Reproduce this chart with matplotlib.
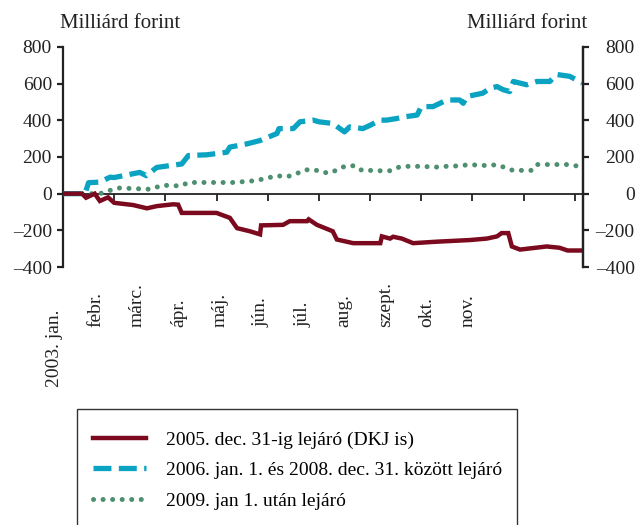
import matplotlib.pyplot as plt
import matplotlib.transforms as mtransforms
from matplotlib.patches import Rectangle

plt.rcParams['font.family'] = ['Liberation Serif', 'DejaVu Serif']

# idő hónapokban (0 = 2003. jan. 1.), értékek milliárd forintban
red_t = [0, 0.37, 0.45, 0.62, 0.72, 0.88, 1.0, 1.37, 1.64, 1.83, 2.15, 2.25, 2.32,
         3.0, 3.26, 3.4, 3.65, 3.85, 3.87, 4.3, 4.43, 4.77, 4.8, 4.96, 5.27, 5.35,
         5.67, 6.2, 6.23, 6.39, 6.45, 6.62, 6.84, 7.3, 7.95, 8.28, 8.48, 8.57, 8.7,
         8.77, 8.93, 9.45, 9.7, 9.86, 10.15]
red_v = [0, 0, -22, 0, -40, -20, -50, -62, -80, -68, -58, -60, -105,
         -105, -132, -188, -205, -222, -173, -170, -150, -150, -140, -170, -205, -250,
         -270, -270, -233, -245, -235, -245, -270, -262, -253, -245, -233, -215, -215,
         -288, -305, -288, -295, -310, -310]

blue_t = [0, 0.43, 0.5, 0.72, 0.92, 1.0, 1.5, 1.63, 1.83, 2.32, 2.45, 2.81, 3.2,
          3.26, 3.6, 3.85, 4.18, 4.22, 4.5, 4.63, 4.89, 5.0, 5.27, 5.5, 5.6, 5.86,
          6.0, 6.2, 6.32, 6.52, 6.7, 6.92, 7.0, 7.23, 7.5, 7.75, 7.82, 7.89, 8.2,
          8.35, 8.48, 8.6, 8.73, 8.8, 9.06, 9.26, 9.51, 9.65, 9.9, 10.15]
blue_v = [0, 0, 60, 63, 90, 88, 116, 98, 143, 162, 208, 212, 226,
          254, 272, 290, 328, 355, 355, 392, 401, 392, 383, 337, 364, 355,
          373, 401, 401, 410, 420, 429, 475, 475, 511, 511, 493, 530, 548,
          576, 584, 567, 557, 612, 594, 612, 612, 650, 640, 604]

green_t = [0, 0.72, 0.92, 1.08, 1.37, 1.7, 1.95, 2.3, 2.45, 2.8, 3.33, 3.72, 3.9,
           4.18, 4.37, 4.53, 4.73, 4.92, 5.08, 5.25, 5.41, 5.55, 5.7, 5.84, 5.98,
           6.19, 6.39, 6.54, 6.72, 7.07, 7.23, 7.42, 7.6, 7.95, 8.3, 8.47, 8.63,
           8.79, 9.16, 9.26, 9.84, 10.15]
green_v = [0, 0, 18, 31, 28, 24, 46, 42, 61, 61, 61, 70, 79,
           98, 92, 105, 130, 130, 115, 115, 140, 152, 152, 127, 127,
           125, 125, 143, 149, 149, 143, 149, 149, 158, 153, 158, 143,
           127, 127, 159, 159, 147]

series_labels = ['2005. dec. 31-ig lejáró (DKJ is)',
                 '2006. jan. 1. és 2008. dec. 31. között lejáró',
                 '2009. jan 1. után lejáró']
month_labels = ['2003. jan.', 'febr.', 'márc.', 'ápr.', 'máj.', 'jún.', 'júl.',
                'aug.', 'szept.', 'okt.', 'nov.']
y_ticks = [-400, -200, 0, 200, 400, 600, 800]
y_labels = ['–400', '–200', '0', '200', '400', '600', '800']

FS = 14
W, H = 637, 525
fig = plt.figure(figsize=(W / 100, H / 100), dpi=100)
fig.patch.set_facecolor('white')

x0, x1, ytop, ybot = 63, 583, 47, 267
ax = fig.add_axes([x0 / W, 1 - ybot / H, (x1 - x0) / W, (ybot - ytop) / H])
ax.set_xlim(0, 10.16)
ax.set_ylim(-400, 800)

l1, = ax.plot(red_t, red_v, color='#7b0a1e', lw=3.2, solid_joinstyle='miter',
              label=series_labels[0], zorder=4)
l2, = ax.plot(blue_t, blue_v, color='#0aa3c2', lw=3.8, linestyle=(0, (3.4, 1.4)),
              label=series_labels[1], zorder=3)
l3, = ax.plot(green_t, green_v, color='#4e8f70', lw=3.6, linestyle=(0, (0.01, 1.9)),
              dash_capstyle='round', label=series_labels[2], zorder=3)

# spines
ax.spines['top'].set_visible(False)
ax.spines['bottom'].set_position(('data', 0))
for s in ['left', 'right', 'bottom']:
    ax.spines[s].set_linewidth(1.6)
    ax.spines[s].set_color('#222222')
ax.spines['bottom'].set_linewidth(1.3)

ax.set_yticks(y_ticks)
ax.set_yticklabels(y_labels)
ax.tick_params(axis='y', which='both', direction='out', length=4, width=1.6,
               labelsize=FS, pad=4, left=True, right=False, colors='#222222')
ax.set_xticks(range(11))
ax.set_xticklabels([])
ax.tick_params(axis='x', direction='out', length=5, width=1.3, colors='#222222')

ax2 = ax.twinx()
ax2.set_ylim(-400, 800)
ax2.set_yticks(y_ticks)
ax2.set_yticklabels(y_labels, ha='right')
for s in ['top', 'bottom', 'left']:
    ax2.spines[s].set_visible(False)
ax2.spines['right'].set_linewidth(1.6)
ax2.spines['right'].set_color('#222222')
ax2.tick_params(axis='y', direction='out', length=4, width=1.6, labelsize=FS,
                pad=33.2, colors='#222222')

# month labels (rotated)
trans = mtransforms.blended_transform_factory(ax.transData, ax.transAxes)
for i, lab in enumerate(month_labels):
    xp = -0.16 + 0.807 * i
    yp = -0.545 if i == 0 else -0.273
    ax.text(xp, yp, lab, rotation=90, rotation_mode='anchor', ha='left',
            va='center', fontsize=FS, color='#222222', transform=trans)

fig.text(60 / W, 1 - 28 / H, 'Milliárd forint', fontsize=15, ha='left',
         va='baseline', color='#222222')
fig.text(587 / W, 1 - 28 / H, 'Milliárd forint', fontsize=15, ha='right',
         va='baseline', color='#222222')

# legend box
fig.patches.append(Rectangle((77 / W, -0.02), (517 - 77) / W, 0.02 + 1 - 409 / H,
                             transform=fig.transFigure, fill=False,
                             edgecolor='#333333', lw=1.0))
fig.legend(handles=[l1, l2, l3], loc='upper left',
           bbox_to_anchor=(93 / W, 1 - 431 / H), frameon=False, fontsize=FS,
           handlelength=2.75, handletextpad=1.0, labelspacing=0.66,
           borderaxespad=0, borderpad=0)

fig.savefig('out.png', dpi=100)
